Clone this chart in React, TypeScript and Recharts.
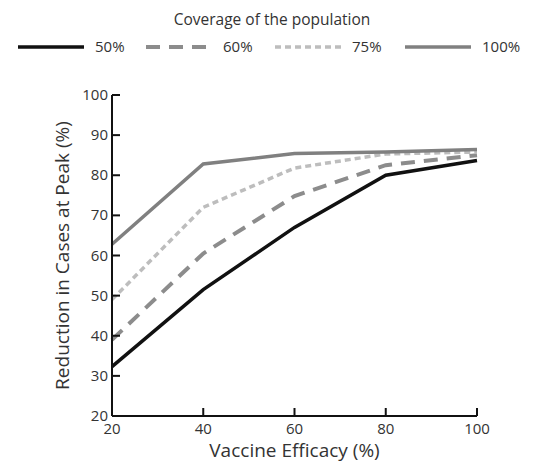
import React from 'react';
import { LineChart, Line, XAxis, YAxis } from 'recharts';

const efficacy = [20, 40, 60, 80, 100];
const cov50 = [32.3, 51.5, 67, 80, 83.7];
const cov60 = [39, 60.5, 74.8, 82.5, 85];
const cov75 = [49, 72, 81.8, 85.3, 85.8];
const cov100 = [62.8, 82.8, 85.4, 85.8, 86.4];
const yTicks = [20, 30, 40, 50, 60, 70, 80, 90, 100];
const xTicks = [20, 40, 60, 80, 100];

const series = [
  { key: 'c50', label: '50%', color: '#111111', dash: undefined, width: 3.5 },
  { key: 'c60', label: '60%', color: '#8c8c8c', dash: '14 9', width: 4 },
  { key: 'c75', label: '75%', color: '#bdbdbd', dash: '6 4', width: 3.5 },
  { key: 'c100', label: '100%', color: '#808080', dash: undefined, width: 3.5 },
];

const data = efficacy.map((e, i) => ({
  eff: e,
  c50: cov50[i],
  c60: cov60[i],
  c75: cov75[i],
  c100: cov100[i],
}));

const font = '"Open Sans", sans-serif';

const XTick = (props: any) => {
  const { x, y, payload } = props;
  return (
    <g>
      <line x1={x} y1={y} x2={x} y2={y - 8} stroke="#111" strokeWidth={2} />
      <text x={x} y={y + 18} textAnchor="middle" fill="#333" fontSize={15} fontFamily={font}>
        {payload.value}
      </text>
    </g>
  );
};

const YTick = (props: any) => {
  const { x, y, payload } = props;
  return (
    <g>
      {payload.value !== 20 && (
        <line x1={x} y1={y} x2={x + 8} y2={y} stroke="#111" strokeWidth={2} />
      )}
      <text x={x - 4} y={y + 5} textAnchor="end" fill="#333" fontSize={15} fontFamily={font}>
        {payload.value}
      </text>
    </g>
  );
};

const XLabel = (props: any) => {
  const { viewBox } = props;
  const cx = viewBox.x + viewBox.width / 2;
  return (
    <text x={cx} y={viewBox.y + 41} textAnchor="middle" fill="#333" fontSize={19} fontFamily={font}>
      Vaccine Efficacy (%)
    </text>
  );
};

const YLabel = (props: any) => {
  const { viewBox } = props;
  const cy = viewBox.y + viewBox.height / 2;
  const lx = 69;
  return (
    <text
      x={lx}
      y={cy}
      transform={`rotate(-90, ${lx}, ${cy})`}
      textAnchor="middle"
      fill="#333"
      fontSize={19}
      fontFamily={font}
    >
      Reduction in Cases at Peak (%)
    </text>
  );
};

export default function App() {
  const legendX = [18, 146, 275, 405];
  return (
    <div style={{ position: 'absolute', left: 0, top: 0, width: 548, height: 462, background: '#fff' }}>
      <svg width={548} height={70} style={{ position: 'absolute', left: 0, top: 0 }}>
        <text x={272} y={25} textAnchor="middle" fontSize={15.5} fill="#333" fontFamily={font}>
          Coverage of the population
        </text>
        {series.map((s, i) => (
          <g key={s.key}>
            <line
              x1={legendX[i]}
              y1={47}
              x2={legendX[i] + 66}
              y2={47}
              stroke={s.color}
              strokeWidth={s.width}
              strokeDasharray={s.dash}
            />
            <text x={legendX[i] + 77} y={52} fontSize={15} fill="#333" fontFamily={font}>
              {s.label}
            </text>
          </g>
        ))}
      </svg>
      <div style={{ position: 'absolute', left: 0, top: 0 }}>
        <LineChart width={548} height={462} data={data} margin={{ top: 95, right: 71, left: 0, bottom: 0 }}>
          <XAxis
            dataKey="eff"
            type="number"
            domain={[20, 100]}
            ticks={xTicks}
            tick={<XTick />}
            tickLine={false}
            tickSize={0}
            tickMargin={0}
            stroke="#111"
            strokeWidth={2}
            height={46}
            label={<XLabel />}
          />
          <YAxis
            type="number"
            domain={[20, 100]}
            ticks={yTicks}
            tick={<YTick />}
            tickLine={false}
            tickSize={0}
            tickMargin={0}
            stroke="#111"
            strokeWidth={2}
            width={112}
            label={<YLabel />}
          />
          {series.map((s) => (
            <Line
              key={s.key}
              type="linear"
              dataKey={s.key}
              stroke={s.color}
              strokeWidth={s.width}
              strokeDasharray={s.dash}
              dot={false}
              activeDot={false}
              isAnimationActive={false}
            />
          ))}
        </LineChart>
      </div>
    </div>
  );
}
